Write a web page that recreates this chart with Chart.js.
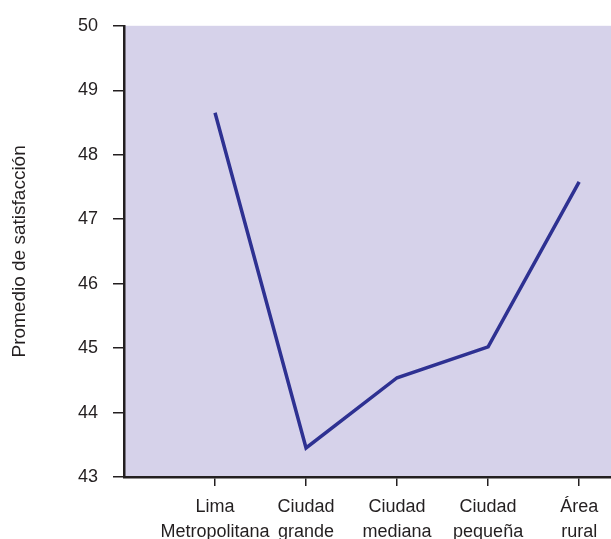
<!DOCTYPE html>
<html>
<head>
<meta charset="utf-8">
<script src="https://cdn.jsdelivr.net/npm/chart.js@4"></script>
<style>
  html, body { margin: 0; padding: 0; background: #fff; }
  #wrap { width: 611px; height: 539px; }
</style>
</head>
<body>
<div id="wrap"><canvas id="chart" width="611" height="539"></canvas></div>
<script>
var categories = [
  ['Lima', 'Metropolitana'],
  ['Ciudad', 'grande'],
  ['Ciudad', 'mediana'],
  ['Ciudad', 'pequeña'],
  ['Área', 'rural']
];
var satisfaction = [48.65, 43.45, 44.54, 45.02, 47.58];
var yTicks = [43, 44, 45, 46, 47, 48, 49, 50];

var labelFont = "'Liberation Sans', Arial, sans-serif";

var points = satisfaction.map(function (v, i) {
  return { x: i + 1, y: v };
});

// lavender fill behind the plot only
const plotBg = {
  id: 'plotBg',
  beforeDraw: function (chart) {
    var a = chart.chartArea;
    var ctx = chart.ctx;
    ctx.save();
    ctx.fillStyle = '#D6D2EA';
    ctx.fillRect(a.left, a.top, a.right - a.left, a.bottom - a.top);
    ctx.restore();
  }
};

var chart = new Chart(document.getElementById('chart'), {
  type: 'line',
  data: {
    datasets: [{
      label: 'Promedio de satisfacción',
      data: points,
      borderColor: '#2E3192',
      borderWidth: 3.5,
      pointRadius: 0,
      tension: 0,
      fill: false
    }]
  },
  options: {
    responsive: false,
    animation: false,
    layout: { padding: { top: 25, right: 0, left: 0, bottom: 0 } },
    plugins: {
      legend: { display: false },
      tooltip: { enabled: false }
    },
    scales: {
      x: {
        type: 'linear',
        min: 0,
        max: 5.35,
        afterBuildTicks: function (scale) {
          scale.ticks = categories.map(function (c, i) { return { value: i + 1 }; });
        },
        afterFit: function (scale) { scale.height = 62; },
        grid: { drawOnChartArea: false, drawTicks: true, tickLength: 9, color: '#231F20', lineWidth: 1.5 },
        border: { display: true, color: '#231F20', width: 2.5 },
        ticks: {
          autoSkip: false,
          maxRotation: 0,
          padding: 8,
          color: '#231F20',
          font: { family: labelFont, size: 18, lineHeight: 1.4 },
          callback: function (v) { return categories[v - 1]; }
        }
      },
      y: {
        min: 43,
        max: 50,
        afterBuildTicks: function (scale) {
          scale.ticks = yTicks.map(function (v) { return { value: v }; });
        },
        afterFit: function (scale) { scale.width = 124; },
        grid: { drawOnChartArea: false, drawTicks: true, tickLength: 11, color: '#231F20', lineWidth: 1.5 },
        border: { display: true, color: '#231F20', width: 2.5 },
        ticks: {
          padding: 15,
          color: '#231F20',
          font: { family: labelFont, size: 18 }
        },
        title: {
          display: true,
          text: 'Promedio de satisfacción',
          color: '#231F20',
          padding: { top: 8, bottom: 0 },
          font: { family: labelFont, size: 19 }
        }
      }
    }
  },
  plugins: [plotBg]
});
</script>
</body>
</html>
